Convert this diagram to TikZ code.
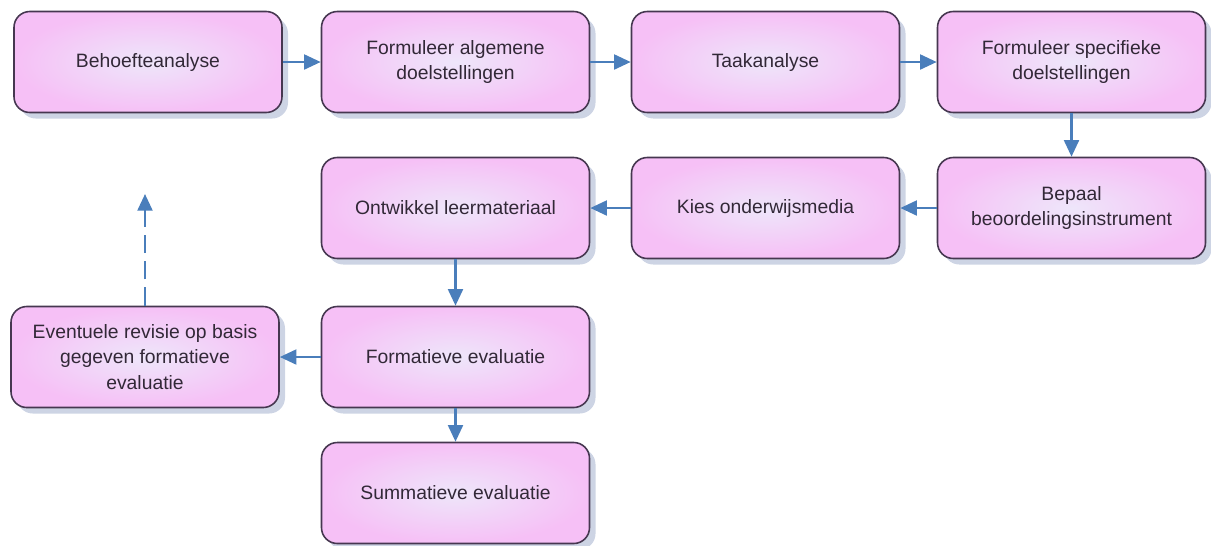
\documentclass[tikz,border=0pt]{standalone}
\usepackage{fontspec}
\setmainfont{Liberation Sans}
\usepackage{tikz}
\usetikzlibrary{arrows.meta}
\usetikzlibrary{shadows}

\definecolor{boxline}{RGB}{70,55,80}
\definecolor{boxpink}{RGB}{246,192,246}
\definecolor{boxlight}{RGB}{238,230,250}
\definecolor{shade}{RGB}{205,212,228}
\definecolor{flow}{RGB}{74,126,187}
\definecolor{tekst}{RGB}{50,40,55}

\tikzset{
  stap/.style={draw=boxline, line width=0.9pt, rounded corners=9pt,
    minimum width=5.36cm, minimum height=2.02cm, align=center,
    text=tekst, font=\fontsize{11}{14.5}\selectfont,
    shading=radial, inner color=boxlight, outer color=boxpink,
    drop shadow={shadow xshift=0.12cm, shadow yshift=-0.12cm, fill=shade, opacity=1}},
  pijl/.style={draw=flow, line width=1.4pt, -{Triangle[width=8.5pt, length=9.5pt]}}
}

\begin{document}
\begin{tikzpicture}

\useasboundingbox (0, 0) rectangle (24.22, -10.9);

\node[stap] (behoefte) at (2.96, -1.24) {Behoefteanalyse};
\node[stap] (algemeen) at (9.11, -1.24) {Formuleer algemene\\doelstellingen};
\node[stap] (taak) at (15.31, -1.24) {Taakanalyse};
\node[stap] (specifiek) at (21.43, -1.24) {Formuleer specifieke\\doelstellingen};

\node[stap] (bepaal) at (21.43, -4.16) {Bepaal\\beoordelingsinstrument};
\node[stap] (media) at (15.31, -4.16) {Kies onderwijsmedia};
\node[stap] (ontwikkel) at (9.11, -4.16) {Ontwikkel leermateriaal};

\node[stap] (formatief) at (9.11, -7.14) {Formatieve evaluatie};
\node[stap] (revisie) at (2.9, -7.14) {Eventuele revisie op basis\\gegeven formatieve\\evaluatie};

\node[stap] (summatief) at (9.11, -9.86) {Summatieve evaluatie};

\coordinate (terug) at (2.9, -3.88);

\draw[pijl] (behoefte) -- (algemeen);
\draw[pijl] (algemeen) -- (taak);
\draw[pijl] (taak) -- (specifiek);
\draw[pijl] (specifiek) -- (bepaal);
\draw[pijl] (bepaal) -- (media);
\draw[pijl] (media) -- (ontwikkel);
\draw[pijl] (ontwikkel) -- (formatief);
\draw[pijl] (formatief) -- (revisie);
\draw[pijl] (formatief) -- (summatief);

% terugkoppeling
\draw[pijl, dash pattern=on 10.5pt off 4.5pt] (revisie) -- (terug);

\end{tikzpicture}
\end{document}
